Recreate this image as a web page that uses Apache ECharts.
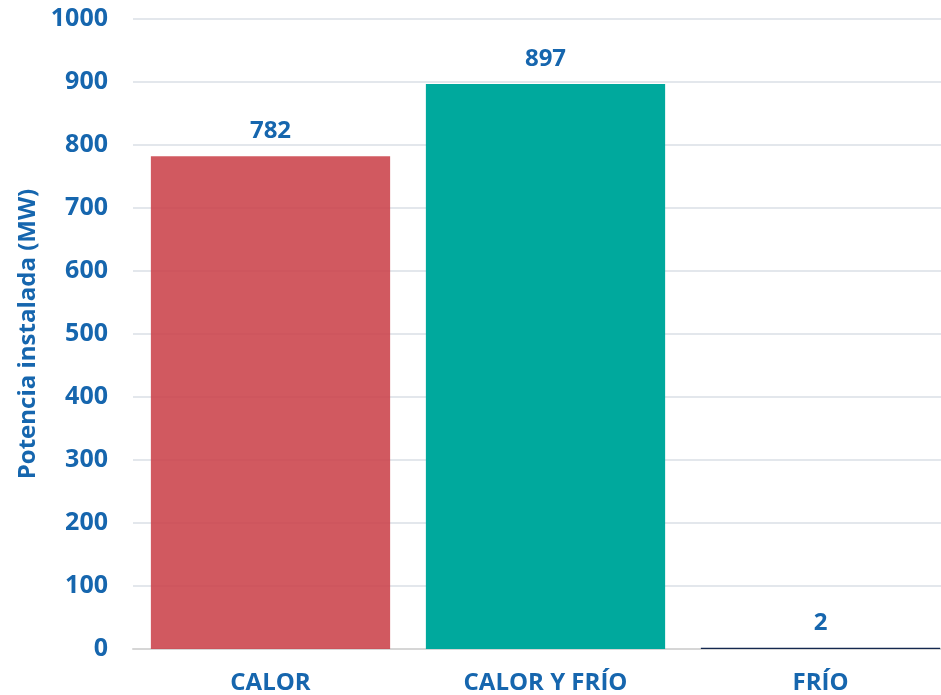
<!DOCTYPE html>
<html>
<head>
<meta charset="utf-8">
<script src="https://cdn.jsdelivr.net/npm/echarts@6/dist/echarts.min.js"></script>
<style>
  html, body { margin: 0; padding: 0; background: #ffffff; }
  #chart { width: 941px; height: 695px; }
</style>
</head>
<body>
<div id="chart"></div>
<script>
// Installed capacity by type of use
const categories = ['CALOR', 'CALOR Y FRÍO', 'FRÍO'];
const values = [782, 897, 2];
const barColors = ['rgba(202, 64, 72, 0.87)', '#00a99d', '#14284f'];
const yTicks = { min: 0, max: 1000, interval: 100 };

const textBlue = '#1666ae';
const font = '"Open Sans", "Noto Sans", sans-serif';

const chart = echarts.init(document.getElementById('chart'), null, { renderer: 'canvas' });

chart.setOption({
  animation: false,
  grid: {
    left: 133, width: 825, top: 19, bottom: 46,
    containLabel: false, outerBoundsMode: 'none'
  },
  xAxis: {
    type: 'category',
    data: categories,
    axisLine: { show: true, lineStyle: { color: '#d6d6d6', width: 2 } },
    axisTick: { show: false },
    axisLabel: {
      color: textBlue, fontFamily: font, fontWeight: 'bold', fontSize: 24, margin: 22
    }
  },
  yAxis: {
    type: 'value',
    min: yTicks.min, max: yTicks.max, interval: yTicks.interval,
    name: 'Potencia instalada (MW)',
    nameLocation: 'middle',
    nameGap: 92,
    nameTextStyle: { color: textBlue, fontFamily: font, fontWeight: 'bold', fontSize: 24 },
    axisLine: { show: false },
    axisTick: { show: false },
    splitLine: { lineStyle: { color: '#e3e7ec', width: 2 } },
    axisLabel: {
      color: textBlue, fontFamily: font, fontWeight: 'bold', fontSize: 25, margin: 25,
      formatter: v => String(v)
    }
  },
  series: [{
    type: 'bar',
    data: values.map((v, i) => ({ value: v, itemStyle: { color: barColors[i] } })),
    barCategoryGap: '13%',
    label: {
      show: true, position: 'top', distance: 13,
      color: textBlue, fontFamily: font, fontWeight: 'bold', fontSize: 24
    }
  }]
});
</script>
</body>
</html>
